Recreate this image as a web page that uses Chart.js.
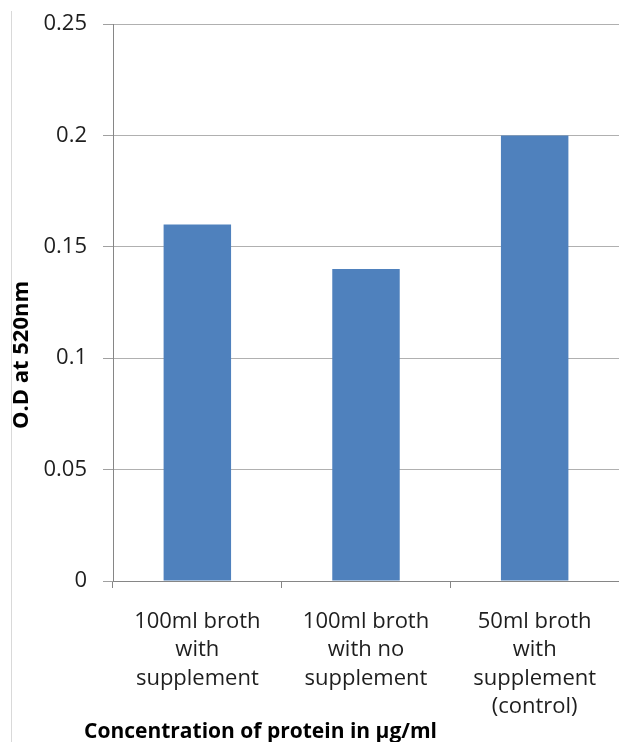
<!DOCTYPE html>
<html>
<head>
<meta charset="utf-8">
<script src="https://cdn.jsdelivr.net/npm/chart.js@4/dist/chart.umd.min.js"></script>
<style>
html,body{margin:0;padding:0;background:#ffffff;}
#wrap{width:619px;height:742px;position:relative;}
canvas{display:block;}
</style>
</head>
<body>
<div id="wrap"><canvas id="c" width="619" height="742"></canvas></div>
<script>
// ---- data ----
const categories = [
  ["100ml broth", "with", "supplement"],
  ["100ml broth", "with no", "supplement"],
  ["50ml broth", "with", "supplement", "(control)"]
];
const odValues = [0.16, 0.14, 0.20];
const yTickValues = [0, 0.05, 0.1, 0.15, 0.2, 0.25];
const yAxisTitle = "O.D at 520nm";
const xAxisTitle = "Concentration of protein in µg/ml";

const FONT = '"Open Sans", "Noto Sans", sans-serif';
const TEXT = '#1e1e1e';

const decorPlugin = {
  id: 'decor',
  beforeDraw(chart) {
    const ctx = chart.ctx;
    ctx.save();
    ctx.fillStyle = '#ffffff';
    ctx.fillRect(0, 0, chart.width, chart.height);
    ctx.strokeStyle = '#d9d9d9';
    ctx.lineWidth = 1;
    ctx.beginPath();
    ctx.moveTo(11.5, 11);
    ctx.lineTo(11.5, chart.height);
    ctx.stroke();
    ctx.restore();
  },
  afterDraw(chart) {
    const ctx = chart.ctx;
    const xs = chart.scales.x;
    ctx.save();
    ctx.fillStyle = '#000000';
    ctx.font = 'bold 21px ' + FONT;
    ctx.textAlign = 'left';
    ctx.textBaseline = 'alphabetic';
    ctx.fillText(xAxisTitle, xs.left - 29, 738);
    ctx.font = 'bold 22px ' + FONT;
    ctx.translate(28, 355);
    ctx.rotate(-Math.PI / 2);
    ctx.textAlign = 'center';
    ctx.fillText(yAxisTitle, 0, 0);
    ctx.restore();
  }
};

new Chart(document.getElementById('c'), {
  type: 'bar',
  data: {
    labels: categories,
    datasets: [{
      data: odValues,
      backgroundColor: '#4F81BD',
      borderWidth: 0,
      barPercentage: 0.4,
      categoryPercentage: 1.0
    }]
  },
  options: {
    responsive: false,
    animation: false,
    devicePixelRatio: 1,
    layout: { padding: { top: 24, left: 0, right: 0, bottom: 0 } },
    plugins: { legend: { display: false }, tooltip: { enabled: false }, title: { display: false } },
    scales: {
      x: {
        offset: true,
        afterFit(s) { s.height = 161; s.paddingLeft = 0; s.paddingRight = 0; },
        grid: {
          offset: true,
          drawOnChartArea: false,
          drawTicks: true,
          tickLength: 7,
          color: '#868686',
          tickColor: '#868686'
        },
        border: { display: true, color: '#868686', width: 1 },
        ticks: {
          autoSkip: false,
          maxRotation: 0,
          minRotation: 0,
          padding: 19,
          color: TEXT,
          font: { family: FONT, size: 22, lineHeight: '28.5px' }
        }
      },
      y: {
        min: 0,
        max: 0.25,
        afterFit(s) { s.width = 113; s.paddingTop = 0; s.paddingBottom = 0; },
        afterBuildTicks(s) { s.ticks = yTickValues.map(v => ({ value: v })); },
        grid: {
          color: '#b0b0b0',
          tickColor: '#a0a0a0',
          tickLength: 10,
          drawTicks: true
        },
        border: { display: true, color: '#868686', width: 1 },
        ticks: {
          padding: 16,
          color: TEXT,
          font: { family: FONT, size: 22 },
          callback: (v) => String(+Number(v).toFixed(2))
        }
      }
    }
  },
  plugins: [decorPlugin]
});
</script>
</body>
</html>
